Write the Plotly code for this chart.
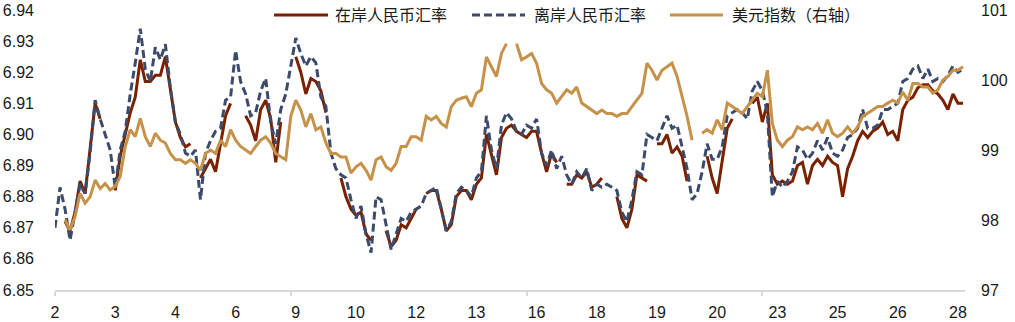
import plotly.graph_objects as go

# Sample index along the horizontal axis (one slot per observation)
idx = list(range(182))

# Day-of-month labels, one every 12 observations
day_labels = ["2", "3", "4", "6", "9", "10", "12", "13", "16", "18",
              "19", "20", "23", "25", "26", "28"]

# Onshore CNY (left axis); None marks hours without quotes
cny = [
    None, None, 6.872, 6.869, 6.875, 6.885, 6.881, 6.895, 6.910, 6.905,
    None, None, 6.882, 6.893, 6.900, 6.907, 6.912, 6.924, 6.917, 6.917,
    6.919, 6.919, 6.925, 6.915, 6.904, 6.899, 6.896, 6.897, None, 6.886,
    6.889, 6.892, 6.888, 6.897, 6.906, 6.910, None, None, 6.906, 6.903,
    6.898, 6.908, 6.911, 6.905, 6.891, 6.904, None, None, 6.925, 6.920,
    6.913, 6.918, 6.917, 6.914, 6.907, None, None, 6.886, 6.880, 6.876,
    6.874, 6.875, 6.868, 6.866, None, None, 6.869, 6.864, 6.866, 6.871,
    6.870, 6.873, 6.876, None, 6.881, 6.882, 6.882, 6.876, 6.869, 6.871,
    6.880, 6.882, 6.882, 6.879, 6.884, 6.886, 6.900, 6.893, 6.887, 6.899,
    6.902, 6.903, 6.901, 6.900, 6.899, 6.901, 6.901, 6.894, 6.888, 6.894,
    6.891, None, 6.884, 6.884, 6.887, 6.886, 6.888, 6.883, 6.884, 6.886,
    None, None, 6.880, 6.873, 6.870, 6.876, 6.887, 6.886, 6.885, None,
    6.897, 6.897, 6.900, 6.894, 6.896, 6.893, 6.885, None, None, None,
    6.893, 6.886, 6.881, 6.892, 6.902, 6.905, None, None, None, 6.910,
    6.912, 6.904, 6.910, 6.887, 6.884, 6.885, 6.884, 6.885, 6.890, 6.891,
    6.884, 6.890, 6.892, 6.890, 6.893, 6.891, 6.890, 6.880, 6.889, 6.893,
    6.898, 6.901, 6.899, 6.901, 6.902, 6.904, 6.900, 6.901, 6.898, 6.908,
    6.911, 6.912, 6.915, 6.916, 6.916, 6.914, 6.913, 6.911, 6.908, 6.913,
    6.910, 6.910,
]

# Offshore CNH (left axis)
cnh = [
    6.870, 6.883, 6.876, 6.866, 6.875, 6.884, 6.881, 6.894, 6.911, 6.905,
    6.900, 6.895, 6.883, 6.895, 6.901, 6.913, 6.923, 6.934, 6.921, 6.917,
    6.928, 6.924, 6.929, 6.915, 6.904, 6.900, 6.894, 6.893, 6.895, 6.879,
    6.894, 6.898, 6.901, 6.902, 6.911, 6.912, 6.927, 6.917, 6.913, 6.906,
    6.907, 6.914, 6.918, 6.904, 6.897, 6.908, 6.913, 6.922, 6.931, 6.926,
    6.922, 6.925, 6.923, 6.912, 6.909, 6.894, 6.889, 6.887, 6.886, 6.879,
    6.873, 6.877, 6.868, 6.862, 6.880, 6.879, 6.871, 6.863, 6.868, 6.873,
    6.872, 6.875, 6.876, 6.877, 6.881, 6.882, 6.883, 6.876, 6.869, 6.872,
    6.881, 6.883, 6.882, 6.880, 6.886, 6.888, 6.906, 6.895, 6.889, 6.903,
    6.907, 6.905, 6.901, 6.900, 6.903, 6.902, 6.905, 6.894, 6.890, 6.895,
    6.889, 6.893, 6.887, 6.884, 6.888, 6.886, 6.889, 6.882, 6.884, 6.883,
    6.884, 6.883, 6.882, 6.875, 6.872, 6.879, 6.888, 6.887, 6.900, 6.899,
    6.898, 6.902, 6.906, 6.902, 6.903, 6.896, 6.889, 6.879, 6.881, 6.888,
    6.897, 6.892, 6.892, 6.896, 6.906, 6.907, 6.908, 6.907, 6.905, 6.914,
    6.917, 6.914, 6.907, 6.880, 6.885, 6.883, 6.885, 6.888, 6.896, 6.895,
    6.892, 6.894, 6.898, 6.895, 6.899, 6.894, 6.893, 6.895, 6.899, 6.900,
    6.902, 6.908, 6.902, 6.902, 6.903, 6.908, 6.908, 6.909, 6.910, 6.917,
    6.918, 6.921, 6.922, 6.918, 6.921, 6.917, 6.918, 6.917, 6.919, 6.922,
    6.920, 6.921,
]

# US dollar index (right axis)
dxy = [
    None, None, 98.00, 97.86, 98.05, 98.38, 98.24, 98.33, 98.57, 98.45,
    98.52, 98.43, 98.48, 98.62, 99.05, 99.29, 99.19, 99.45, 99.19, 99.05,
    99.24, 99.14, 99.10, 98.95, 98.86, 98.86, 98.81, 98.86, 98.81, 98.71,
    98.95, 99.00, 98.95, 99.14, 99.05, 99.29, 99.14, 99.05, 99.00, 98.95,
    99.05, 99.14, 99.19, 99.10, 98.95, 98.90, 98.86, 99.48, 99.71, 99.57,
    99.33, 99.52, 99.29, 99.33, 99.10, 98.95, 98.95, 98.90, 98.90, 98.67,
    98.76, 98.81, 98.71, 98.57, 98.86, 98.90, 98.76, 98.71, 98.81, 99.05,
    99.05, 99.19, 99.19, 99.14, 99.48, 99.43, 99.48, 99.38, 99.33, 99.62,
    99.71, 99.74, 99.76, 99.62, 99.81, 99.86, 100.33, 100.19, 100.05, 100.38,
    100.52, None, 100.52, 100.29, 100.33, 100.38, 100.24, 99.95, 99.86, 99.81,
    99.67, 99.76, 99.86, 99.81, 99.90, 99.67, 99.62, 99.57, 99.52, 99.57,
    99.52, 99.52, 99.48, 99.52, 99.52, 99.62, 99.71, 99.81, 100.24, 100.14,
    100.00, 100.14, 100.19, 100.24, 100.05, 99.76, 99.48, 99.14, None, 99.24,
    99.29, 99.24, 99.43, 99.29, 99.67, 99.62, 99.57, 99.52, 99.62, 99.71,
    99.81, 99.76, 100.14, 99.38, 99.14, 99.05, 99.14, 99.19, 99.33, 99.29,
    99.33, 99.29, 99.38, 99.24, 99.43, 99.24, 99.19, 99.24, 99.33, 99.24,
    99.33, 99.48, 99.52, 99.57, 99.62, 99.62, 99.67, 99.71, 99.67, 99.83,
    99.71, 99.95, 99.95, 99.90, 99.90, 99.81, 99.86, 100.00, 100.05, 100.14,
    100.14, 100.19,
]

names = ["在岸人民币汇率", "离岸人民币汇率", "美元指数（右轴）"]
c_cny = "#7A2100"
c_cnh = "#3C4A6C"
c_dxy = "#C6924A"
dash_cnh = "8px,4px"

FONT = "Liberation Sans, Arial, Noto Sans CJK SC, sans-serif"

fig = go.Figure()
fig.add_trace(go.Scatter(x=idx, y=cny, name=names[0], mode="lines",
                         line=dict(color=c_cny, width=3), yaxis="y"))
fig.add_trace(go.Scatter(x=idx, y=cnh, name=names[1], mode="lines",
                         line=dict(color=c_cnh, width=3, dash=dash_cnh), yaxis="y"))
fig.add_trace(go.Scatter(x=idx, y=dxy, name=names[2], mode="lines",
                         line=dict(color=c_dxy, width=3), yaxis="y2"))

# Legend row drawn along the top edge
legend_items = [
    (0.2407, 0.300, 0.3055, c_cny, "solid", names[0]),
    (0.4582, 0.5165, 0.5242, c_cnh, dash_cnh, names[1]),
    (0.6758, 0.7341, 0.7418, c_dxy, "solid", names[2]),
]
shapes, annotations = [], []
ly = 0.982
for x0, x1, xt, col, dash, label in legend_items:
    shapes.append(dict(type="line", xref="paper", yref="paper",
                       x0=x0, x1=x1, y0=ly, y1=ly,
                       line=dict(color=col, width=3, dash=dash)))
    annotations.append(dict(xref="paper", yref="paper", x=xt, y=ly,
                            xanchor="left", yanchor="middle", showarrow=False,
                            text=label, font=dict(size=16, color="#1a1a1a",
                                                  family=FONT)))

fig.update_layout(
    width=1015, height=322,
    margin=dict(l=55, r=50, t=10, b=32, autoexpand=False),
    paper_bgcolor="white", plot_bgcolor="white",
    showlegend=False,
    font=dict(family=FONT, size=16, color="#1a1a1a"),
    shapes=shapes, annotations=annotations,
    xaxis=dict(
        range=[0, 181.4], automargin=False,
        tickmode="array", tickvals=list(range(0, 181, 12)), ticktext=day_labels,
        ticks="", showline=True, linecolor="#d9d9d9", linewidth=2,
        showgrid=False, zeroline=False, ticklabelstandoff=7,
        minor=dict(tickmode="array", tickvals=[0.02, 47, 94, 141],
                   ticks="outside", ticklen=4, tickwidth=2, tickcolor="#d9d9d9",
                   showgrid=False),
    ),
    yaxis=dict(
        range=[6.85, 6.94], tick0=6.85, dtick=0.01, tickformat=".2f",
        automargin=False,
        showgrid=False, zeroline=False, showline=False, ticks="",
        ticklabelstandoff=20,
    ),
    yaxis2=dict(
        range=[97, 101], tick0=97, dtick=1, overlaying="y", side="right",
        automargin=False,
        showgrid=False, zeroline=False, showline=False, ticks="",
        ticklabelstandoff=15,
    ),
)

fig.write_html("out.html")
